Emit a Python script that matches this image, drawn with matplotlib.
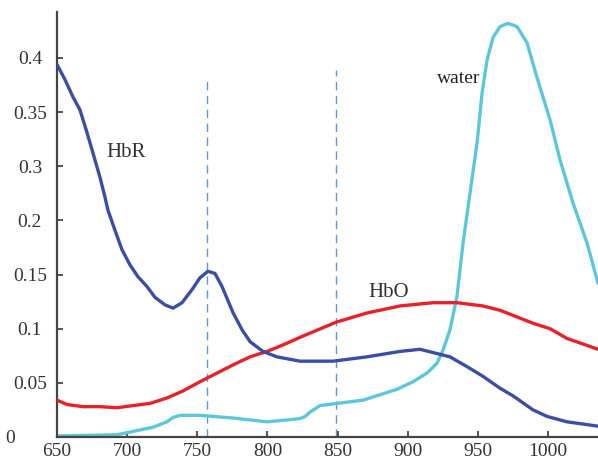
import numpy as np
import matplotlib
matplotlib.use("Agg")
import matplotlib.pyplot as plt
import matplotlib.transforms as mtransforms

# absorption spectra (wavelength nm, value in axis units)
hbr_nm = [650, 655.7, 661.4, 666.4, 671.4, 675.7, 680.6, 684.2, 686.3, 691.3, 696.3, 702.0,
          707.7, 714.1, 719.8, 727.0, 732.7, 739.1, 746.2, 751.9, 757.6, 762.6, 767.6, 775.4,
          781.9, 787.6, 796.8, 806.8, 823.2, 846.7, 870.9, 894.5, 908.7, 930.1, 942.2, 953.6,
          965.8, 975.0, 989.3, 999.3, 1013.5, 1035.6]
hbr_val = [0.394, 0.380, 0.364, 0.352, 0.331, 0.312, 0.280, 0.243, 0.219, 0.191, 0.173, 0.159,
           0.148, 0.139, 0.129, 0.122, 0.119, 0.124, 0.136, 0.147, 0.153, 0.151, 0.139, 0.115,
           0.099, 0.088, 0.079, 0.074, 0.070, 0.070, 0.074, 0.079, 0.081, 0.074, 0.065, 0.056,
           0.045, 0.038, 0.025, 0.019, 0.014, 0.010]

hbo_nm = [650, 657.1, 668.5, 680.6, 692.8, 704.2, 716.3, 728.4, 739.8, 751.9, 764.0, 775.4,
          787.6, 799.7, 811.1, 823.2, 848.9, 870.9, 894.5, 918.0, 935.1, 953.6, 965.8, 989.3,
          1001.4, 1013.5, 1035.6]
hbo_val = [0.034, 0.030, 0.028, 0.028, 0.027, 0.029, 0.031, 0.036, 0.0425, 0.051, 0.059, 0.0665,
           0.074, 0.079, 0.085, 0.092, 0.106, 0.1145, 0.121, 0.124, 0.124, 0.121, 0.117, 0.105,
           0.100, 0.091, 0.081]

water_nm = [650, 692.8, 709.2, 718.4, 728.4, 732.7, 737.7, 751.9, 775.4, 799.7, 816.1, 823.2,
            827.0, 830.3, 837.5, 849.6, 868.1, 880.2, 892.3, 903.7, 913.7, 920.8, 925.1, 930.1,
            935.1, 939.4, 944.4, 949.4, 953.0, 956.5, 960.8, 965.8, 971.4, 977.9, 985.0, 992.1,
            1001.4, 1008.5, 1017.8, 1027.8, 1035.6]
water_val = [0.001, 0.002, 0.0065, 0.009, 0.014, 0.018, 0.020, 0.020, 0.0175, 0.014, 0.016, 0.017,
             0.019, 0.023, 0.029, 0.031, 0.034, 0.039, 0.044, 0.051, 0.059, 0.068, 0.080, 0.099,
             0.130, 0.179, 0.251, 0.3215, 0.368, 0.398, 0.419, 0.429, 0.432, 0.429, 0.414, 0.382,
             0.343, 0.306, 0.232, 0.179, 0.142]

marker_nm = [757, 849]
marker_top = [0.383, 0.389]

ytick_vals = [0, 0.05, 0.1, 0.15, 0.2, 0.3, 0.35, 0.4]
ytick_text = ["0", "0.05", "0.1", "0.15", "0.2", "0.3", "0.35", "0.4"]
xticks = [650, 700, 750, 800, 850, 900, 950, 1000]

# the y labels are evenly spaced on the page (0.25 is skipped), so map them to equal steps
scale_vals = [-0.05] + ytick_vals + [0.45]
scale_pos = np.arange(len(scale_vals)) - 1.0


def fwd(v):
    return np.interp(v, scale_vals, scale_pos)


def inv(p):
    return np.interp(p, scale_pos, scale_vals)


plt.rcParams["font.family"] = ["Liberation Serif", "DejaVu Serif"]

fig = plt.figure(figsize=(5.98, 4.63), dpi=100)
ax = fig.add_axes([0.0953, 0.0562, 0.9047, 0.918])
ax.set_yscale("function", functions=(fwd, inv))

for x, top in zip(marker_nm, marker_top):
    ax.plot([x, x], [0, top], color="#5b9bd5", lw=1.0, dashes=(6, 4), zorder=1)

line_kw = dict(lw=2.4, solid_joinstyle="round", solid_capstyle="round")
ax.plot(water_nm, water_val, color="#5cc6da", zorder=2, **line_kw)
ax.plot(hbo_nm, hbo_val, color="#e8202a", zorder=3, **line_kw)
ax.plot(hbr_nm, hbr_val, color="#3a4ea3", zorder=4, **line_kw)

ax.text(699, 0.313, "HbR", fontsize=15, color="#333333", ha="center", va="center")
ax.text(886.6, 0.133, "HbO", fontsize=15, color="#333333", ha="center", va="center")
ax.text(936.2, 0.3815, "water", fontsize=14, color="#222222", ha="center", va="center")

ax.set_xlim(650, 1035.6)
ax.set_ylim(0, 0.4425)
ax.set_xticks(xticks)
ax.set_xticklabels([str(t) for t in xticks])
ax.set_yticks(ytick_vals)
ax.set_yticklabels(ytick_text)
ax.minorticks_off()

for side in ["top", "right"]:
    ax.spines[side].set_visible(False)
for side in ["left", "bottom"]:
    ax.spines[side].set_color("#444444")
    ax.spines[side].set_linewidth(1.6)

ax.tick_params(direction="in", length=4, width=1.3, color="#444444",
               labelsize=14, labelcolor="#333333")
ax.tick_params(axis="y", pad=19.5)
ax.tick_params(axis="x", pad=4)

# y labels sit centred in the margin; the "0" is pushed further left
for lab in ax.get_yticklabels():
    lab.set_ha("center")
zero = ax.yaxis.get_major_ticks()[0].label1
zero.set_transform(zero.get_transform() + mtransforms.ScaledTranslation(-0.2, 0, fig.dpi_scale_trans))

fig.savefig("out.png", dpi=100)
